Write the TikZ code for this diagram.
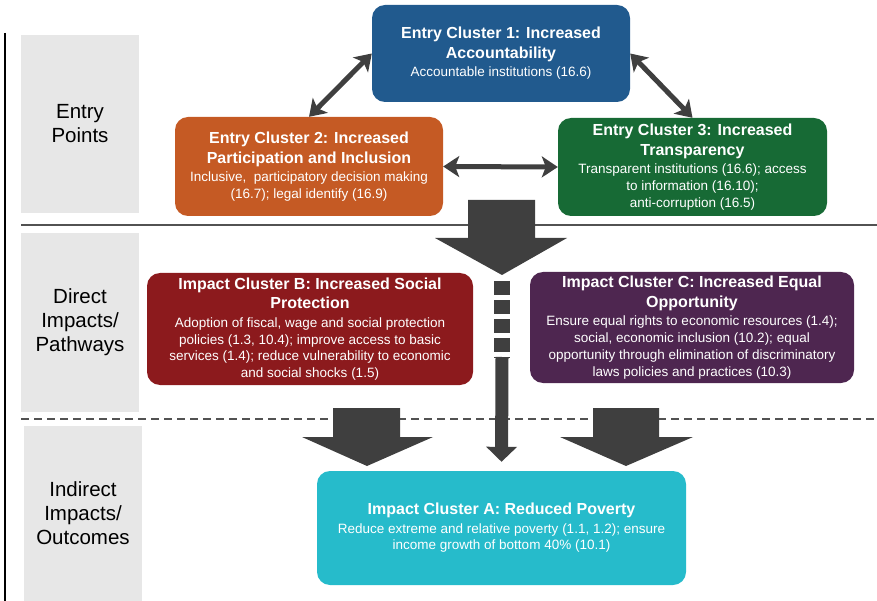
\documentclass[tikz,border=0pt]{standalone}
\usepackage{fontspec}
\setmainfont{Liberation Sans}
\usetikzlibrary{arrows.meta,positioning}
\definecolor{eblue}{RGB}{33,90,142}
\definecolor{eorange}{RGB}{197,90,36}
\definecolor{egreen}{RGB}{23,106,53}
\definecolor{ired}{RGB}{140,26,29}
\definecolor{ipurple}{RGB}{78,38,80}
\definecolor{icyan}{RGB}{38,187,203}
\definecolor{dgray}{RGB}{63,63,63}
\definecolor{lgray}{RGB}{231,231,231}
\tikzstyle{clbox}=[rectangle, rounded corners=13pt, text=white,
    align=center, inner sep=0pt,
    font=\fontsize{13.5}{16.8}\selectfont]
\tikzstyle{lvlbox}=[rectangle, fill=lgray, align=center,
    font=\fontsize{20.5}{24}\selectfont]
\tikzstyle{sepline}=[draw=dgray!90, line width=1.5pt]
\newcommand{\clhead}[1]{{\fontsize{16}{19.5}\selectfont\bfseries #1}}

\begin{document}
\begin{tikzpicture}
      [x=1pt, y=-1pt,
      dbl/.style={{Stealth[length=16pt,width=21pt,inset=4pt]}-{Stealth[length=16pt,width=21pt,inset=4pt]},
      draw=dgray, line width=5pt},
      blk/.style={fill=dgray}]
    \useasboundingbox (0,0) rectangle (877,601);

    % levels
    \node [lvlbox, minimum width=118pt, minimum height=178pt] (entry) at (80,124) {Entry\\Points};
    \node [lvlbox, minimum width=118pt, minimum height=179pt] (direct) at (80,322.5) {Direct\\Impacts/\\Pathways};
    \node [lvlbox, minimum width=118pt, minimum height=175pt] (indirect) at (83,513.5) {Indirect\\Impacts/\\Outcomes};
    \draw [black, line width=2pt] (5,33) -- (5,601);
    \draw [sepline] (21,225) -- (877,225);
    \draw [sepline, dash pattern=on 8pt off 5pt] (21,419) -- (877,419);

    % block arrows
    \fill [blk] (468,200) -- (535,200) -- (535,238) -- (567,238) -- (502,275)
      -- (435,238) -- (468,238) -- cycle;
    \fill [blk] (333,408) -- (400,408) -- (400,437) -- (433,437) -- (367,466)
      -- (302,437) -- (333,437) -- cycle;
    \fill [blk] (593,408) -- (659,408) -- (659,437) -- (693,437) -- (626,466)
      -- (560,437) -- (593,437) -- cycle;
    \coordinate (hub) at (502,275);

    % clusters
    \node [clbox, fill=eblue, minimum width=258pt, minimum height=97pt] (e1) at (501,53.5)
      {\clhead{Entry Cluster 1: Increased}\\[3pt]\clhead{Accountability}\\[1.5pt]
       Accountable institutions (16.6)};
    \node [clbox, fill=eorange, minimum width=268pt, minimum height=99pt] (e2) at (309,166.5)
      {\clhead{Entry Cluster 2: Increased}\\[3pt]\clhead{Participation and Inclusion}\\[1.5pt]
       Inclusive,\ \ participatory decision making\\(16.7); legal identify (16.9)};
    \node [clbox, fill=egreen, minimum width=269pt, minimum height=98pt] (e3) at (692.5,167)
      {\clhead{Entry Cluster 3: Increased}\\[3pt]\clhead{Transparency}\\[1.5pt]
       Transparent institutions (16.6); access\\to information (16.10);\\anti-corruption (16.5)};
    \node [clbox, fill=ired, minimum width=326pt, minimum height=112pt] (iB) at (310,329)
      {\clhead{Impact Cluster B: Increased Social}\\[3pt]\clhead{Protection}\\[1.5pt]
       Adoption of fiscal, wage and social protection\\policies (1.3, 10.4); improve access to basic\\
       services (1.4); reduce vulnerability to economic\\and social shocks (1.5)};
    \node [clbox, fill=ipurple, minimum width=324pt, minimum height=111pt] (iC) at (692,327.5)
      {\clhead{Impact Cluster C: Increased Equal}\\[3pt]\clhead{Opportunity}\\[1.5pt]
       Ensure equal rights to economic resources (1.4);\\social, economic inclusion (10.2); equal\\
       opportunity through elimination of discriminatory\\laws policies and practices (10.3)};
    \node [clbox, fill=icyan, minimum width=369pt, minimum height=114pt] (iA) at (501.5,528)
      {\clhead{Impact Cluster A: Reduced Poverty}\\[1.5pt]
       Reduce extreme and relative poverty (1.1, 1.2); ensure\\income growth of bottom 40\% (10.1)};

    \begin{scope}[every path/.style=dbl]
      \path (e1.west) -- (e2.north);
      \path (e1.east) -- (e3.north);
      \path (e2.east) -- (e3.west);
    \end{scope}
    \draw [dgray, line width=16pt, dash pattern=on 14pt off 5pt] (hub) ++(0,6) -- ++(0,77);
    \draw [dgray, line width=13pt, -{Triangle[length=15pt,width=30pt]}, shorten >=9pt]
      (hub) ++(0,82) -- (iA.north);

\end{tikzpicture}
\end{document}
